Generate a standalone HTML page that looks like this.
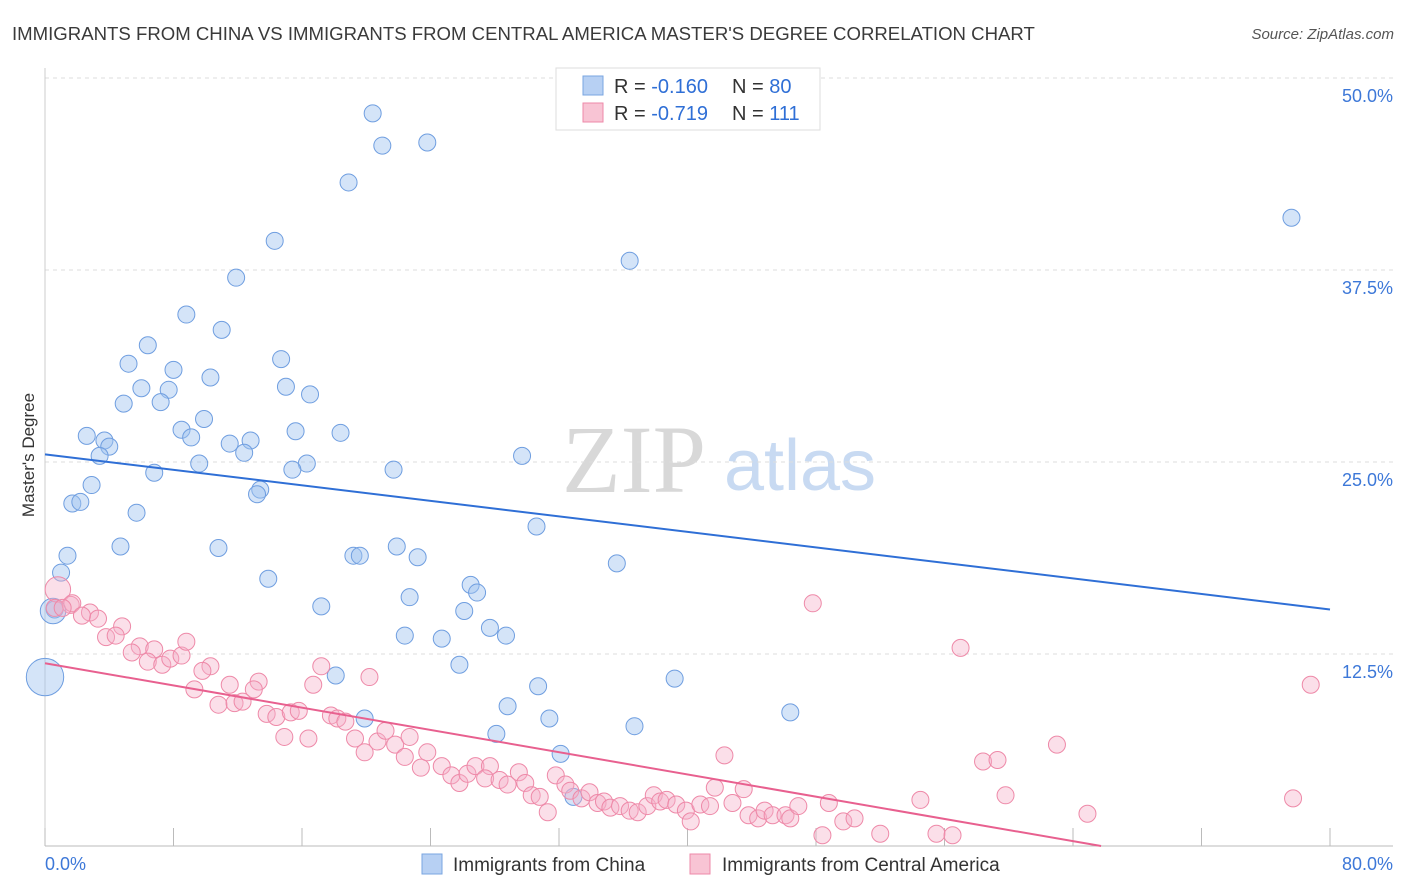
<!DOCTYPE html>
<html><head><meta charset="utf-8"><style>
body{margin:0;background:#fff;font-family:"Liberation Sans",sans-serif;}
#wrap{position:relative;width:1406px;height:892px;overflow:hidden;}
</style></head><body>
<div id="wrap">
<svg id="svg" width="1406" height="892">
<text x="12" y="40" font-size="18.6" fill="#3a3a3a">IMMIGRANTS FROM CHINA VS IMMIGRANTS FROM CENTRAL AMERICA MASTER'S DEGREE CORRELATION CHART</text>
<text x="1394" y="39" font-size="15" fill="#555" text-anchor="end" font-style="italic">Source: ZipAtlas.com</text>
<text x="634" y="492" font-size="96" fill="#d8d8d8" font-family="Liberation Serif,serif" text-anchor="middle">ZIP</text>
<text x="800" y="490" font-size="72" fill="#c8daf2" text-anchor="middle">atlas</text>
<text transform="translate(34,455) rotate(-90)" font-size="17" fill="#333" text-anchor="middle">Master's Degree</text>
<g id="grid"></g><g id="pts"></g><g id="lines"></g>
<g>
<rect x="556" y="68" width="264" height="62" fill="#fff" stroke="#ddd"/>
<rect x="583" y="76" width="20" height="19" fill="#b7d0f3" stroke="#7aa6e0"/>
<rect x="583" y="103" width="20" height="19" fill="#f8c4d4" stroke="#ee89a8"/>
<text x="614" y="93" font-size="20" fill="#333">R = <tspan fill="#2f6fd6">-0.160</tspan><tspan x="732">N = </tspan><tspan fill="#2f6fd6">80</tspan></text>
<text x="614" y="120" font-size="20" fill="#333">R = <tspan fill="#2f6fd6">-0.719</tspan><tspan x="732">N = </tspan><tspan fill="#2f6fd6">111</tspan></text>
</g>
<g>
<rect x="422" y="854" width="20" height="20" fill="#b7d0f3" stroke="#7aa6e0"/>
<text x="453" y="871" font-size="19" fill="#333">Immigrants from China</text>
<rect x="690" y="854" width="20" height="20" fill="#f8c4d4" stroke="#ee89a8"/>
<text x="722" y="871" font-size="19" fill="#333">Immigrants from Central America</text>
</g>
</svg>
</div>
<script>
const xTicks=[0,8,16,24,32,40,48,56,64,72,80];
const yTicks=[12.5,25,37.5,50];
const yTickLabels=["12.5%","25.0%","37.5%","50.0%"];
const xEndLabels=["0.0%","80.0%"];
const chinaX=[20.4,21.0,23.8,18.9,14.3,36.4,77.6,11.9,8.8,11.0,6.4,5.2,8.0,10.3,14.7,15.0,16.5,6.0,7.7,7.2,4.9,9.9,8.5,9.1,2.6,3.7,4.0,3.4,11.5,12.8,12.4,15.6,18.4,9.6,6.8,16.3,15.4,21.7,29.7,2.9,13.4,13.2,1.7,2.2,5.7,30.6,4.7,10.8,1.4,1.0,19.2,19.6,21.9,23.2,35.6,13.9,26.5,26.9,22.7,17.2,26.1,0.6,27.7,28.7,22.4,24.7,25.8,18.1,30.7,39.2,28.8,19.9,31.4,46.4,36.7,28.1,32.1,32.9,0,0.5];
const chinaY=[47.7,45.6,45.8,43.2,39.4,38.1,40.9,37.0,34.6,33.6,32.6,31.4,31.0,30.5,31.7,29.9,29.4,29.8,29.7,28.9,28.8,27.8,27.1,26.6,26.7,26.4,26.0,25.4,26.2,26.4,25.6,27.0,26.9,24.9,24.3,24.9,24.5,24.5,25.4,23.5,23.2,22.9,22.3,22.4,21.7,20.8,19.5,19.4,18.9,17.8,18.9,18.9,19.5,18.8,18.4,17.4,17.0,16.5,16.2,15.6,15.3,15.4,14.2,13.7,13.7,13.5,11.8,11.1,10.4,10.9,9.1,8.3,8.3,8.7,7.8,7.3,6.0,3.2,11.0,15.3];
const chinaSize=[];chinaSize[78]=2.2;chinaSize[79]=1.5;
const camX=[0.8,0.6,1.6,1.7,1.1,2.8,3.3,2.3,4.8,3.8,4.4,5.9,5.4,6.8,6.4,7.3,7.8,8.5,8.8,10.3,9.8,9.3,11.5,13.3,13.0,10.8,11.8,12.3,13.8,14.4,15.3,15.8,16.7,17.2,17.8,18.2,18.7,20.2,19.3,19.9,14.9,16.4,20.7,21.2,21.8,22.7,22.4,23.4,23.8,24.7,25.3,25.8,26.3,26.8,27.7,27.4,28.3,28.8,29.5,29.9,30.3,30.8,31.3,31.8,32.4,32.7,33.4,33.9,34.4,34.8,35.2,35.8,36.4,36.9,37.5,37.9,38.3,38.7,39.3,39.9,40.2,40.8,41.4,41.7,42.3,42.8,43.5,43.8,44.4,44.8,45.3,46.1,46.4,46.9,47.8,48.4,48.8,49.7,50.4,52.0,54.5,55.5,56.5,57.0,58.4,59.3,59.8,63.0,64.9,77.7,78.8];
const camY=[16.7,15.5,15.7,15.8,15.5,15.2,14.8,15.0,14.3,13.6,13.7,13.0,12.6,12.8,12.0,11.8,12.2,12.4,13.3,11.7,11.4,10.2,10.5,10.7,10.2,9.2,9.3,9.4,8.6,8.4,8.7,8.8,10.5,11.7,8.5,8.3,8.1,11.0,7.0,6.1,7.1,7.0,6.8,7.5,6.6,7.1,5.8,5.1,6.1,5.2,4.6,4.1,4.7,5.2,5.2,4.4,4.3,4.0,4.8,4.1,3.3,3.2,2.2,4.6,4.0,3.6,3.1,3.5,2.8,2.9,2.5,2.6,2.3,2.2,2.6,3.3,2.9,3.0,2.7,2.3,1.6,2.7,2.6,3.8,5.9,2.8,3.7,2.0,1.8,2.3,2.0,2.0,1.8,2.6,15.8,0.7,2.8,1.6,1.8,0.8,3.0,0.8,0.7,12.9,5.5,5.6,3.3,6.6,2.1,3.1,10.5];
const camSize=[];camSize[0]=1.5;
const chinaTrend=[25.5,15.4];
const camTrend=[11.9,-0.181];
const ns="http://www.w3.org/2000/svg";
const X=v=>45+v*(1285/80), Y=v=>846-v*(768/50);
function mk(t,a,p){const e=document.createElementNS(ns,t);for(const k in a)e.setAttribute(k,a[k]);p.appendChild(e);return e;}
const grid=document.getElementById('grid');
yTicks.forEach((t,i)=>{
 const l=mk('line',{x1:45,x2:1393,y1:Y(t),y2:Y(t),stroke:'#ddd','stroke-dasharray':'4,4'},grid);
 
 const tx=mk('text',{x:1393,y:Y(t)+24,'font-size':18,fill:'#3d78d8','text-anchor':'end'},grid);tx.textContent=yTickLabels[i];
 
});
const topGrid=mk('line',{x1:45,x2:1393,y1:78,y2:78,stroke:'#ddd','stroke-dasharray':'4,4'},grid);

const ax=mk('line',{x1:45,x2:1393,y1:846,y2:846,stroke:'#bbb'},grid);

const ay=mk('line',{x1:45,x2:45,y1:68,y2:846,stroke:'#ccc'},grid);

xTicks.forEach(t=>{const l=mk('line',{x1:X(t),x2:X(t),y1:828,y2:846,stroke:'#bbb'},grid);
 });
const xl0=mk('text',{x:45,y:870,'font-size':18,fill:'#3d78d8'},grid);xl0.textContent=xEndLabels[0];

const xl1=mk('text',{x:1393,y:870,'font-size':18,fill:'#3d78d8','text-anchor':'end'},grid);xl1.textContent=xEndLabels[1];

const pts=document.getElementById('pts');
chinaX.forEach((v,i)=>{const c=mk('circle',{cx:X(v),cy:Y(chinaY[i]),r:8.5*(chinaSize[i]||1),fill:'rgba(160,195,240,0.45)',stroke:'#6f9ee0','stroke-width':1},pts);
 });
camX.forEach((v,i)=>{const c=mk('circle',{cx:X(v),cy:Y(camY[i]),r:8.5*(camSize[i]||1),fill:'rgba(246,175,200,0.4)',stroke:'#ee89a8','stroke-width':1},pts);
 });
const lines=document.getElementById('lines');
const bl=mk('line',{x1:X(0),y1:Y(chinaTrend[0]),x2:X(80),y2:Y(chinaTrend[1]),stroke:'#2f6fd6','stroke-width':2},lines);

const xe=-camTrend[0]/camTrend[1];
const pl=mk('line',{x1:X(0),y1:Y(camTrend[0]),x2:X(xe),y2:Y(0),stroke:'#e8608f','stroke-width':2},lines);

</script>
</body></html>
